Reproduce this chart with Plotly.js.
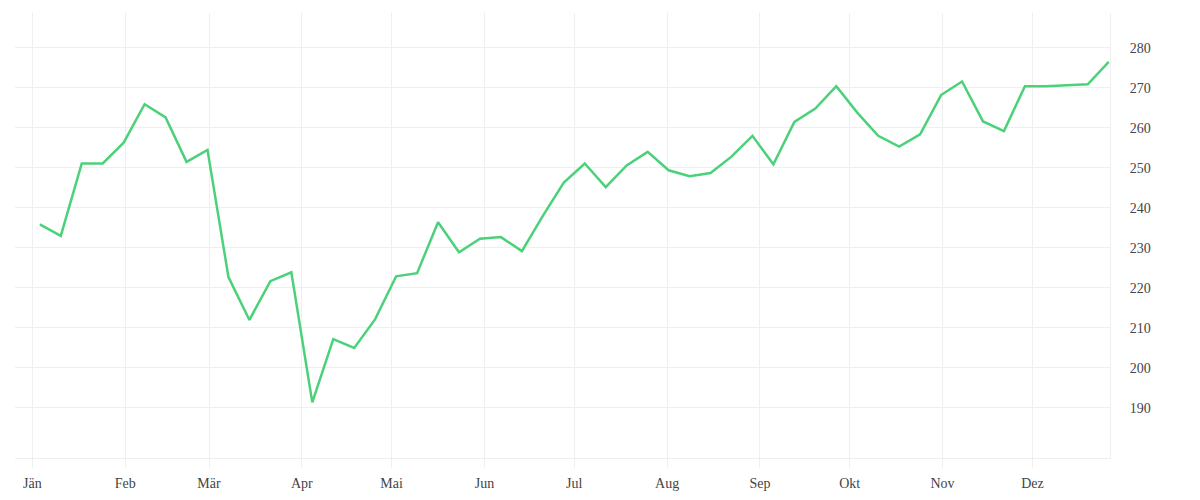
<!DOCTYPE html>
<html>
<head>
<meta charset="utf-8">
<script src="https://cdn.plot.ly/plotly-3.0.1.min.js"></script>
<style>
  html, body { margin: 0; padding: 0; background: #fff; }
  #chart { width: 1200px; height: 500px; }
</style>
</head>
<body>
<div id="chart"></div>
<script>
// weekly dates (noon, so points sit between the month gridlines like the original)
const weekDates = [
    '2021-01-03 12:00', '2021-01-10 12:00', '2021-01-17 12:00', '2021-01-24 12:00',
    '2021-01-31 12:00', '2021-02-07 12:00', '2021-02-14 12:00', '2021-02-21 12:00',
    '2021-02-28 12:00', '2021-03-07 12:00', '2021-03-14 12:00', '2021-03-21 12:00',
    '2021-03-28 12:00', '2021-04-04 12:00', '2021-04-11 12:00', '2021-04-18 12:00',
    '2021-04-25 12:00', '2021-05-02 12:00', '2021-05-09 12:00', '2021-05-16 12:00',
    '2021-05-23 12:00', '2021-05-30 12:00', '2021-06-06 12:00', '2021-06-13 12:00',
    '2021-06-20 12:00', '2021-06-27 12:00', '2021-07-04 12:00', '2021-07-11 12:00',
    '2021-07-18 12:00', '2021-07-25 12:00', '2021-08-01 12:00', '2021-08-08 12:00',
    '2021-08-15 12:00', '2021-08-22 12:00', '2021-08-29 12:00', '2021-09-05 12:00',
    '2021-09-12 12:00', '2021-09-19 12:00', '2021-09-26 12:00', '2021-10-03 12:00',
    '2021-10-10 12:00', '2021-10-17 12:00', '2021-10-24 12:00', '2021-10-31 12:00',
    '2021-11-07 12:00', '2021-11-14 12:00', '2021-11-21 12:00', '2021-11-28 12:00',
    '2021-12-05 12:00', '2021-12-12 12:00', '2021-12-19 12:00', '2021-12-26 12:00'
];

// values
const weekValues = [
    235.9, 233.0, 251.1, 251.1, 256.3, 265.9, 262.6, 251.5,
    254.5, 222.7, 212.0, 221.7, 223.9, 191.4, 207.2, 205.0,
    212.2, 222.9, 223.7, 236.4, 228.9, 232.3, 232.7, 229.2,
    238.0, 246.3, 251.1, 245.2, 250.6, 254.0, 249.4, 247.9,
    248.7, 252.8, 258.0, 250.9, 261.5, 264.8, 270.4, 263.8,
    258.0, 255.3, 258.4, 268.2, 271.6, 261.6, 259.2, 270.4,
    270.4, 270.6, 270.9, 276.5
];

// axis ticks
const monthTicks = [
    '2021-01-01', '2021-02-01', '2021-03-01', '2021-04-01', '2021-05-01', '2021-06-01',
    '2021-07-01', '2021-08-01', '2021-09-01', '2021-10-01', '2021-11-01', '2021-12-01'
];
const monthLabels = ['Jän', 'Feb', 'Mär', 'Apr', 'Mai', 'Jun', 'Jul', 'Aug', 'Sep', 'Okt', 'Nov', 'Dez'];
const valueTicks = [190, 200, 210, 220, 230, 240, 250, 260, 270, 280];

const lineColor = '#4cd17b';
const gridColor = '#efefef';

const trace = {
    x: weekDates,
    y: weekValues,
    type: 'scatter',
    mode: 'lines',
    line: { color: lineColor, width: 2.5 },
    hoverinfo: 'x+y'
};

const layout = {
    width: 1200,
    height: 500,
    paper_bgcolor: '#fff',
    plot_bgcolor: '#fff',
    showlegend: false,
    font: { family: '"Liberation Serif", serif', size: 14, color: '#444' },
    margin: { t: 13, b: 42, l: 15, r: 90 },
    xaxis: {
        type: 'date',
        range: ['2020-12-26 05:00', '2021-12-26 22:00'],
        tickvals: monthTicks,
        ticktext: monthLabels,
        showgrid: true,
        gridcolor: gridColor,
        gridwidth: 1,
        zeroline: false,
        showline: true,
        linecolor: gridColor,
        linewidth: 1,
        ticks: 'outside',
        ticklen: 9,
        tickcolor: gridColor,
        ticklabelstandoff: 3
    },
    yaxis: {
        side: 'right',
        range: [177.5, 288.7],
        tickvals: valueTicks,
        showgrid: true,
        gridcolor: gridColor,
        gridwidth: 1,
        zeroline: false,
        showline: true,
        linecolor: gridColor,
        linewidth: 1,
        ticks: '',
        ticklabelstandoff: 16
    }
};

Plotly.newPlot('chart', [trace], layout, { displayModeBar: false, staticPlot: true });
</script>
</body>
</html>
